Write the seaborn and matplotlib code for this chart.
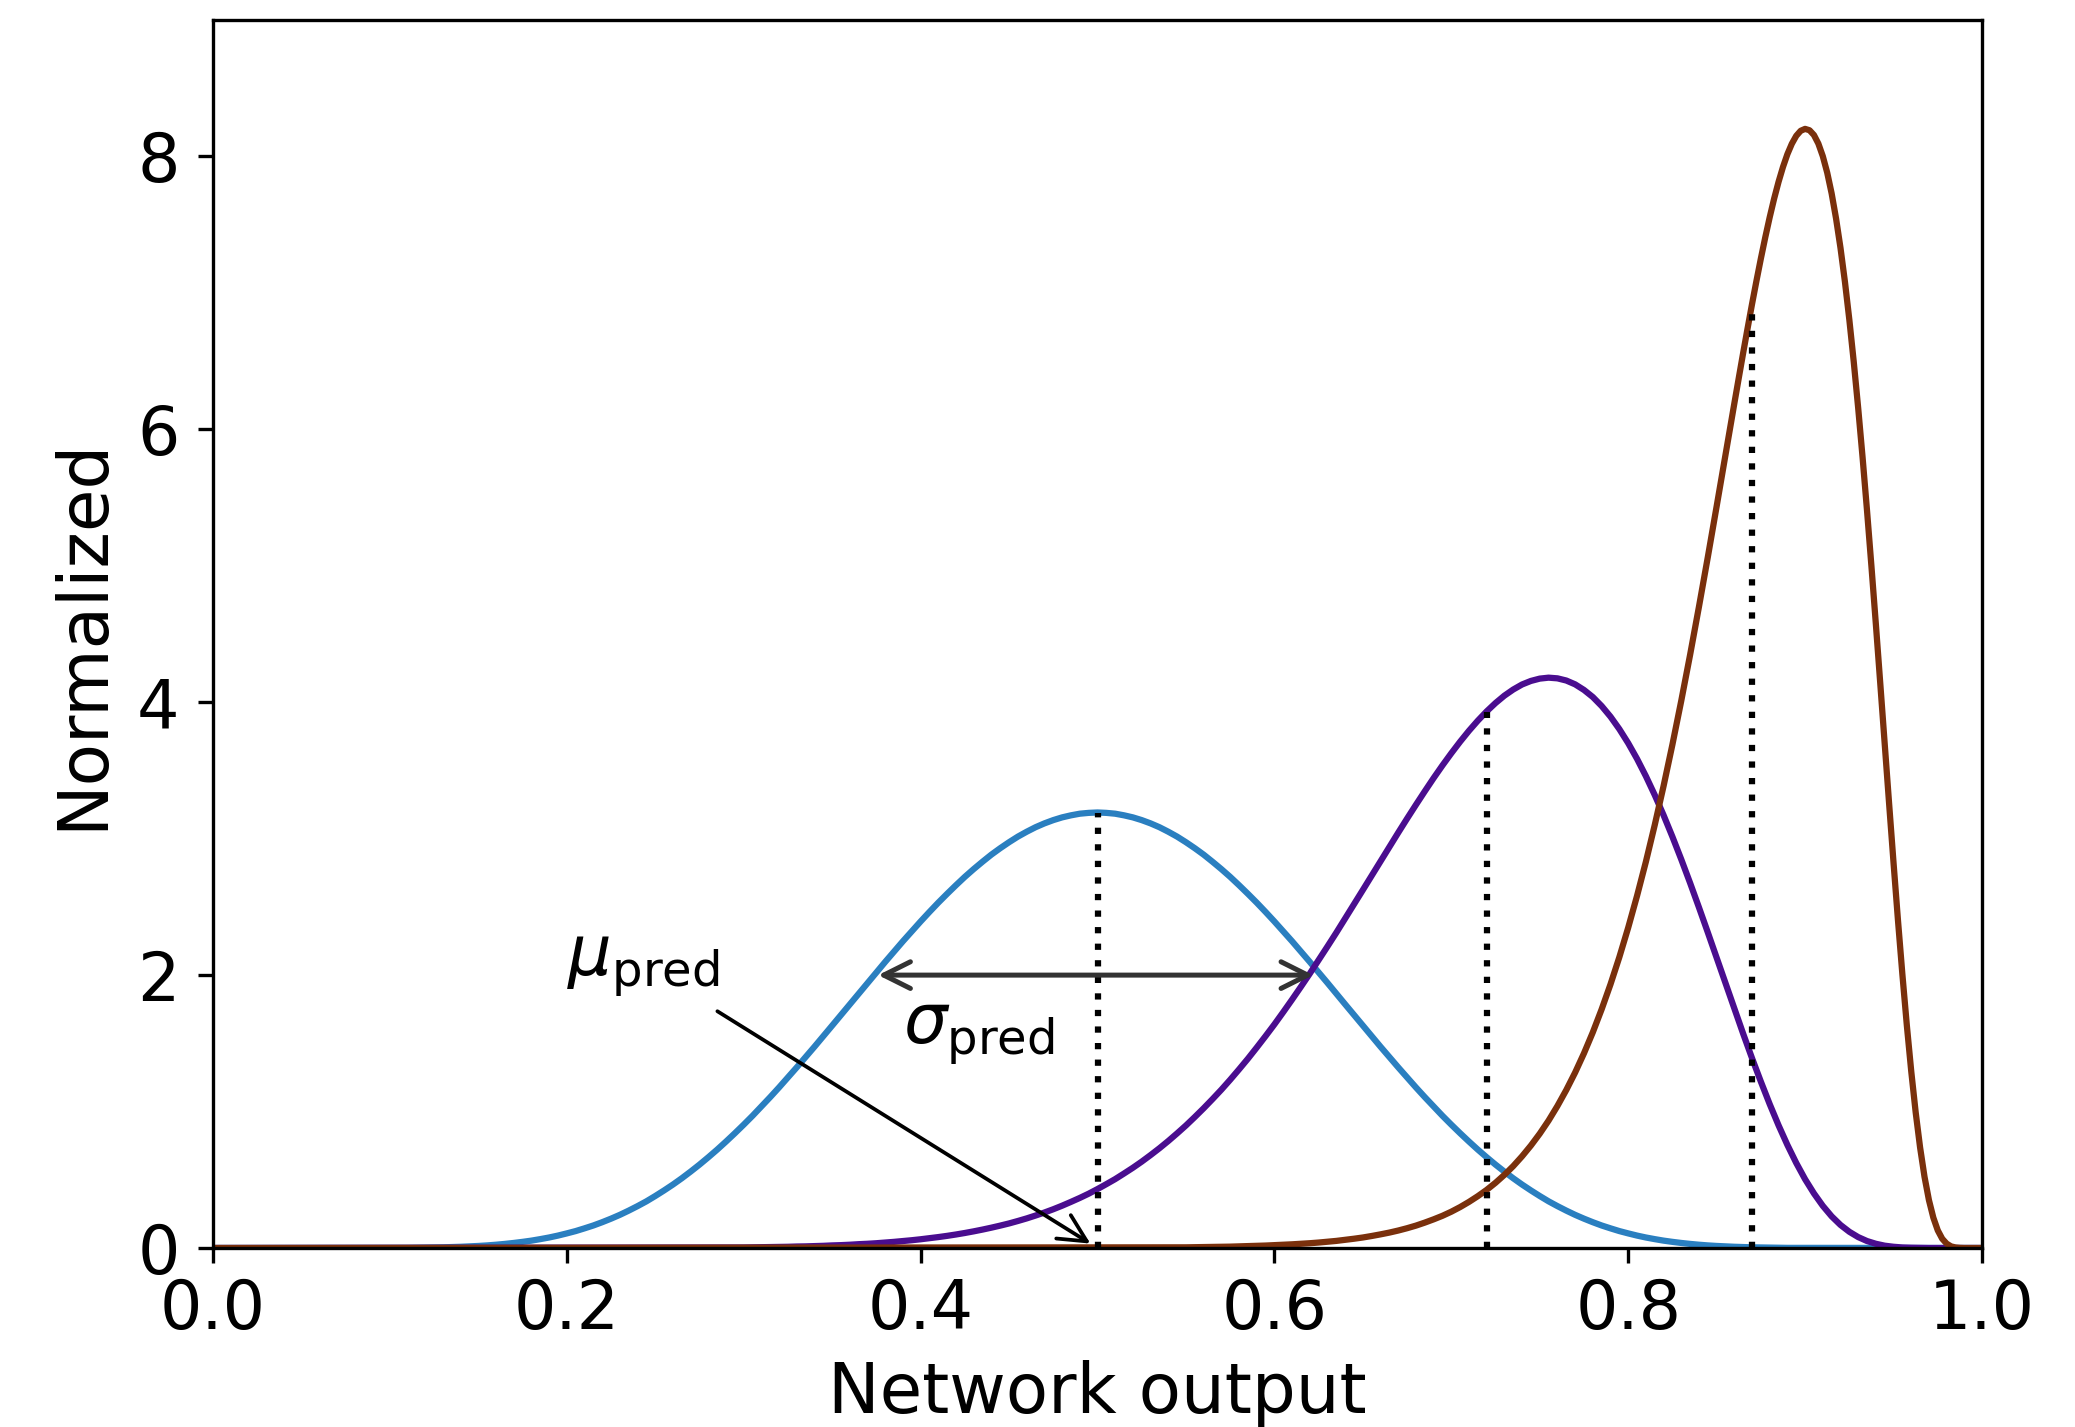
import numpy as np
import matplotlib
matplotlib.use("Agg")
import matplotlib.pyplot as plt
import seaborn as sns

# curve values (x = network output, y = normalized density)
blue_x = np.round(np.r_[0.0, np.arange(0.10, 0.9001, 0.005), 1.0], 4)
blue_y = [0.0,
          0.001, 0.001, 0.001, 0.002, 0.003, 0.004, 0.005, 0.007, 0.009, 0.012, 0.015, 0.019, 0.024, 0.030, 0.037, 0.045, 0.054, 0.065, 0.077, 0.091,
          0.107, 0.124, 0.144, 0.165, 0.189, 0.215, 0.243, 0.274, 0.307, 0.342, 0.381, 0.422, 0.465, 0.511, 0.560, 0.611, 0.665, 0.721, 0.780, 0.841,
          0.904, 0.969, 1.037, 1.106, 1.177, 1.250, 1.324, 1.399, 1.475, 1.552, 1.630, 1.708, 1.786, 1.864, 1.943, 2.020, 2.097, 2.173, 2.248, 2.321,
          2.393, 2.463, 2.531, 2.596, 2.659, 2.720, 2.777, 2.831, 2.883, 2.930, 2.974, 3.015, 3.051, 3.084, 3.112, 3.136, 3.156, 3.171, 3.183, 3.189,
          3.192,
          3.189, 3.183, 3.171, 3.156, 3.136, 3.112, 3.084, 3.051, 3.015, 2.974, 2.930, 2.883, 2.831, 2.777, 2.720, 2.659, 2.596, 2.531, 2.463, 2.393,
          2.321, 2.248, 2.173, 2.097, 2.020, 1.943, 1.864, 1.786, 1.708, 1.630, 1.552, 1.475, 1.399, 1.324, 1.250, 1.177, 1.106, 1.037, 0.969, 0.904,
          0.841, 0.780, 0.721, 0.665, 0.611, 0.560, 0.511, 0.465, 0.422, 0.381, 0.342, 0.307, 0.274, 0.243, 0.215, 0.189, 0.165, 0.144, 0.124, 0.107,
          0.091, 0.077, 0.065, 0.054, 0.045, 0.037, 0.030, 0.024, 0.019, 0.015, 0.012, 0.009, 0.007, 0.005, 0.004, 0.003, 0.002, 0.001, 0.001, 0.001,
          0.0]

purple_x = np.round(np.r_[0.0, np.arange(0.30, 0.97001, 0.005), 1.0], 4)
purple_y = [0.0,
            0.004, 0.005, 0.006, 0.007, 0.008, 0.009, 0.011, 0.012, 0.014, 0.016, 0.019, 0.021, 0.024, 0.028, 0.031, 0.035, 0.040, 0.045, 0.051, 0.057,
            0.064, 0.072, 0.080, 0.089, 0.099, 0.110, 0.122, 0.135, 0.149, 0.164, 0.180, 0.198, 0.217, 0.238, 0.260, 0.284, 0.310, 0.338, 0.367, 0.398,
            0.432, 0.468, 0.505, 0.546, 0.588, 0.633, 0.681, 0.731, 0.784, 0.840, 0.898, 0.960, 1.024, 1.091, 1.160, 1.233, 1.309, 1.387, 1.469, 1.553,
            1.639, 1.729, 1.821, 1.915, 2.011, 2.110, 2.210, 2.311, 2.415, 2.519, 2.624, 2.729, 2.834, 2.939, 3.044, 3.147, 3.248, 3.347, 3.444, 3.537,
            3.626, 3.711, 3.791, 3.865, 3.933, 3.994, 4.048, 4.093, 4.130, 4.156, 4.173, 4.180, 4.175, 4.159, 4.131, 4.090, 4.038, 3.972, 3.894, 3.803,
            3.700, 3.585, 3.458, 3.320, 3.172, 3.014, 2.848, 2.675, 2.496, 2.313, 2.127, 1.940, 1.754, 1.570, 1.391, 1.219, 1.054, 0.899, 0.755, 0.623,
            0.504, 0.400, 0.309, 0.232, 0.169, 0.119, 0.080, 0.051, 0.031, 0.017, 0.009, 0.004, 0.002, 0.001, 0.000,
            0.0]

brown_x = np.round(np.r_[0.0, np.arange(0.55, 0.8599, 0.005), np.arange(0.86, 0.99001, 0.0025), 1.0], 4)
brown_y = [0.0,
           0.005, 0.006, 0.007, 0.008, 0.009, 0.010, 0.012, 0.014, 0.016, 0.018, 0.021, 0.024, 0.027, 0.031, 0.035, 0.040, 0.046, 0.052, 0.060, 0.068,
           0.077, 0.088, 0.100, 0.113, 0.128, 0.145, 0.164, 0.186, 0.210, 0.236, 0.266, 0.300, 0.338, 0.380, 0.426, 0.478, 0.536, 0.600, 0.672, 0.751,
           0.838, 0.934, 1.041, 1.158, 1.286, 1.427, 1.581, 1.750, 1.933, 2.132, 2.348, 2.581, 2.831, 3.100, 3.386, 3.690, 4.011, 4.348, 4.700, 5.063,
           5.436, 5.813, 6.190, 6.376, 6.561, 6.741, 6.918, 7.088, 7.252, 7.408, 7.555, 7.691, 7.814, 7.923, 8.017, 8.093, 8.151, 8.188, 8.202, 8.192,
           8.157, 8.094, 8.002, 7.881, 7.729, 7.545, 7.330, 7.083, 6.804, 6.495, 6.157, 5.793, 5.405, 4.996, 4.572, 4.136, 3.695, 3.255, 2.822, 2.402,
           2.004, 1.633, 1.295, 0.995, 0.737, 0.522, 0.351, 0.222, 0.129, 0.068, 0.032, 0.012, 0.004, 0.001, 0.000,
           0.0]

# dotted markers at the predicted means
mean_x = [0.50, 0.72, 0.87]
mean_top = [3.19, 3.93, 6.92]

# sigma arrow span
sigma_span = [0.376, 0.622]
sigma_level = 2.0

curve_colors = ["#2a7fc0", "#4a0d8f", "#7a300c"]
y_ticks = [0, 2, 4, 6, 8]

plt.rcParams["font.size"] = 16
fig = plt.figure(figsize=(2075 / 300, 1427 / 300), dpi=300)
ax = fig.add_axes([213 / 2075, (1427 - 1248) / 1427, (1982 - 213) / 2075, (1248 - 20) / 1427])

for xs, ys, c in zip([blue_x, purple_x, brown_x], [blue_y, purple_y, brown_y], curve_colors):
    sns.lineplot(x=xs, y=ys, color=c, linewidth=1.5, ax=ax)

ax.vlines(mean_x, 0, mean_top, colors="k", linestyles=":", lw=1.5)

ax.annotate("", xy=(sigma_span[0], sigma_level), xytext=(sigma_span[1], sigma_level),
            arrowprops=dict(arrowstyle="<->", color="0.2", lw=1.2, shrinkA=0, shrinkB=0))
ax.annotate(r"$\mu_{\rm pred}$", xy=(mean_x[0], 0), xytext=(0.2, 2.0), fontsize=16.5,
            arrowprops=dict(arrowstyle="->", color="k", lw=0.9))
ax.text(0.39, 1.5, r"$\sigma_{\rm pred}$", fontsize=16.5)

ax.set_xlim(0, 1)
ax.set_ylim(0, 9)
ax.set_yticks(y_ticks)
ax.tick_params(axis="y", pad=4.5)
ax.set_xlabel("Network output", fontsize=16.6)
ax.set_ylabel("Normalized", fontsize=16.6, labelpad=5)

fig.savefig("out.png", dpi=300)
